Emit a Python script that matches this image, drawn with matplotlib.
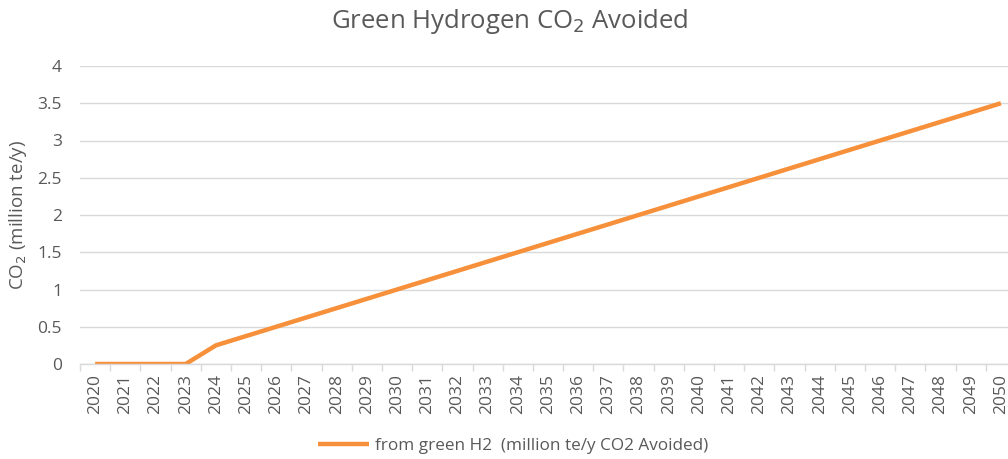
import matplotlib
matplotlib.use("Agg")
import matplotlib.pyplot as plt
from matplotlib.ticker import FixedLocator

years = [str(y) for y in range(2020, 2051)]
co2_avoided = [0, 0, 0, 0, 0.25, 0.375, 0.5, 0.625, 0.75, 0.875, 1.0,
               1.125, 1.25, 1.375, 1.5, 1.625, 1.75, 1.875, 2.0, 2.125,
               2.25, 2.375, 2.5, 2.625, 2.75, 2.875, 3.0, 3.125, 3.25,
               3.375, 3.5]
y_ticks = [0, 0.5, 1, 1.5, 2, 2.5, 3, 3.5, 4]
y_tick_labels = ["0", "0.5", "1", "1.5", "2", "2.5", "3", "3.5", "4"]

plt.rcParams["font.family"] = ["Open Sans", "DejaVu Sans"]
text_gray = "#595959"
grid_gray = "#D9D9D9"
orange = "#F7903A"

W, H = 1008, 459
fig = plt.figure(figsize=(W / 100, H / 100), dpi=100)
ax = fig.add_axes([80 / W, 95 / H, (1016 - 80) / W, (364 - 66) / H])

x = list(range(len(years)))
line, = ax.plot(x, co2_avoided, color=orange, lw=3.2, solid_capstyle="butt",
                label="from green H2  (million te/y CO2 Avoided)")

ax.set_xlim(-0.5, len(years) - 0.5)
ax.set_ylim(0, 4)
ax.set_yticks(y_ticks)
ax.set_yticklabels(y_tick_labels, color=text_gray, fontsize=12.5)
ax.set_xticks(x)
ax.set_xticklabels(years, rotation=90, color=text_gray, fontsize=12.5)
ax.tick_params(axis="x", which="major", length=0, pad=7)
ax.xaxis.set_minor_locator(FixedLocator([i - 0.5 for i in range(len(years) + 1)]))
ax.tick_params(axis="x", which="minor", length=5, color=grid_gray, width=1)
ax.tick_params(axis="y", length=0, pad=13)

ax.grid(axis="y", color=grid_gray, lw=1)
ax.set_axisbelow(True)
for side in ["top", "right", "left"]:
    ax.spines[side].set_visible(False)
ax.spines["bottom"].set_color(grid_gray)
ax.spines["bottom"].set_linewidth(1)

fig.text(510 / W, 1 - 22 / H, "Green Hydrogen CO$_2$ Avoided", ha="center", va="center",
         color=text_gray, fontsize=18.5)
fig.text(18 / W, 1 - 215 / H, "CO$_2$ (million te/y)", rotation=90, ha="center",
         va="center", color=text_gray, fontsize=13.5)

fig.legend(handles=[line], loc="center", bbox_to_anchor=(513 / W, 1 - 446 / H),
           frameon=False, fontsize=12.3, labelcolor=text_gray, handlelength=3.0,
           handletextpad=0.3)

fig.savefig("out.png", dpi=100, facecolor="white")
